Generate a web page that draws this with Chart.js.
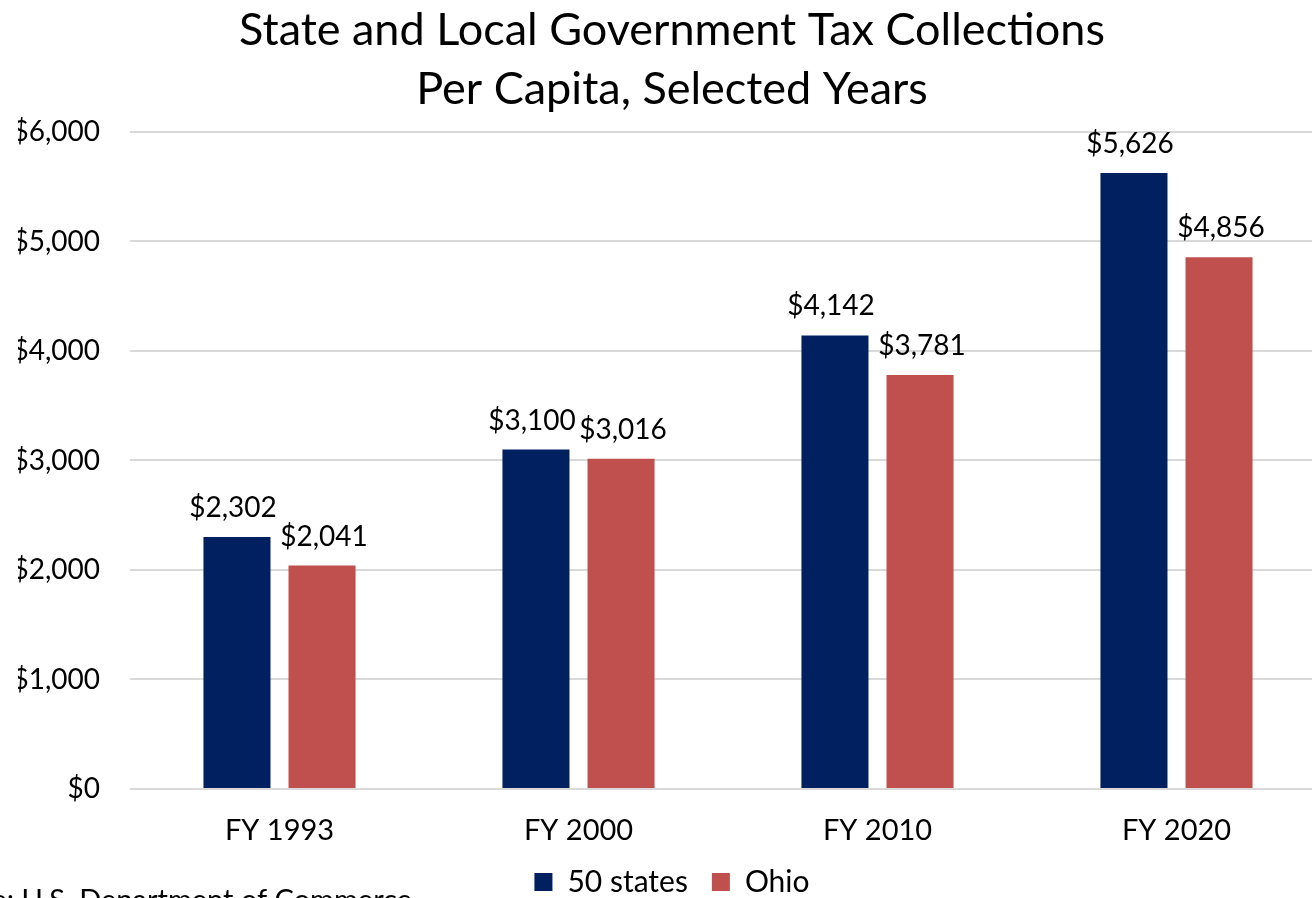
<!DOCTYPE html>
<html>
<head>
<meta charset="utf-8">
<script src="https://cdn.jsdelivr.net/npm/chart.js@4"></script>
<style>
  html, body { margin: 0; padding: 0; overflow: hidden; background: #fff; }
  #wrap { width: 1330px; height: 898px; }
</style>
</head>
<body>
<div id="wrap"><canvas id="taxChart"></canvas></div>
<script>
// Datos del gráfico
const years = ["FY 1993", "FY 2000", "FY 2010", "FY 2020"];
const allStates = [2302, 3100, 4142, 5626];
const ohio = [2041, 3016, 3781, 4856];
const yTicks = [0, 1000, 2000, 3000, 4000, 5000, 6000];

const FONT = "Lato, 'Open Sans', sans-serif";
const money = (v) => "$" + v.toLocaleString("en-US");

// Etiquetas de valor encima de cada barra
const valueLabels = {
  id: "valueLabels",
  afterDatasetsDraw(chart) {
    const ctx = chart.ctx;
    ctx.save();
    ctx.font = "28px " + FONT;
    ctx.fillStyle = "#000";
    ctx.textAlign = "center";
    ctx.textBaseline = "alphabetic";
    chart.data.datasets.forEach((ds, i) => {
      chart.getDatasetMeta(i).data.forEach((bar, j) => {
        ctx.fillText(money(ds.data[j]), bar.x + (i === 0 ? -4 : 2), bar.y - 20);
      });
    });
    ctx.restore();
  }
};

// Nota de fuente (recortada a la izquierda como en el original)
const sourceNote = {
  id: "sourceNote",
  afterDraw(chart) {
    const ctx = chart.ctx;
    const txt = "Source: U.S. Department of Commerce";
    ctx.save();
    ctx.font = "29px " + FONT;
    ctx.fillStyle = "#000";
    ctx.textAlign = "left";
    const w = ctx.measureText(txt).width;
    ctx.fillText(txt, 412 - w, 901);
    ctx.restore();
  }
};

new Chart(document.getElementById("taxChart").getContext("2d"), {
  type: "bar",
  data: {
    labels: years,
    datasets: [
      {
        label: "50 states",
        data: allStates,
        backgroundColor: "#002060",
        categoryPercentage: 0.569,
        barPercentage: 0.788
      },
      {
        label: "Ohio",
        data: ohio,
        backgroundColor: "#C0504D",
        categoryPercentage: 0.569,
        barPercentage: 0.788
      }
    ]
  },
  options: {
    responsive: true,
    maintainAspectRatio: false,
    animation: false,
    layout: { padding: { left: 18, right: 4, top: 0, bottom: -9 } },
    plugins: {
      title: {
        display: true,
        text: ["State and Local Government Tax Collections", "Per Capita, Selected Years"],
        color: "#000",
        font: { family: FONT, size: 45, weight: "normal", lineHeight: 1.333 },
        padding: { top: 0, bottom: 12 }
      },
      legend: {
        position: "bottom",
        labels: {
          color: "#000",
          font: { family: FONT, size: 30 },
          boxWidth: 18,
          boxHeight: 18,
          padding: 24
        }
      },
      tooltip: { enabled: false }
    },
    scales: {
      x: {
        grid: { display: false },
        border: { display: false },
        ticks: { color: "#000", font: { family: FONT, size: 29 }, padding: 16 },
        afterFit: (s) => { s.height = 54; }
      },
      y: {
        min: 0,
        max: 6000,
        afterBuildTicks: (s) => { s.ticks = yTicks.map((v) => ({ value: v })); },
        grid: { color: "#d9d9d9", lineWidth: 2, drawTicks: false },
        border: { display: false },
        ticks: {
          color: "#000",
          font: { family: FONT, size: 28 },
          padding: 30,
          callback: (v) => money(v)
        },
        afterFit: (s) => { s.width = 112; }
      }
    }
  },
  plugins: [valueLabels, sourceNote]
});
</script>
</body>
</html>
